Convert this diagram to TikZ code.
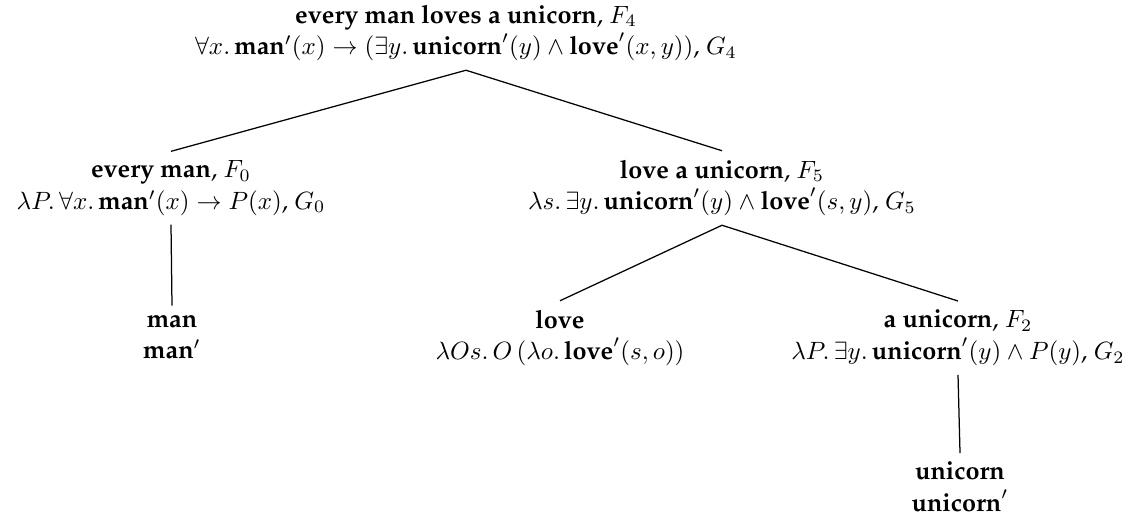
\documentclass[tikz,border=0pt]{standalone}
\usepackage[T1]{fontenc}
\renewcommand{\rmdefault}{ppl}
\begin{document}
\begin{tikzpicture}[x=0.4pt,y=-0.4pt,
  tn/.style={align=center,inner xsep=0pt,inner ysep=3.5pt,font=\fontsize{10.1}{12.6}\selectfont},
  edge/.style={draw=black,line width=0.5pt}]
\useasboundingbox (0,0) rectangle (1143,518);
\node[tn] (root) at (466,33) {\textbf{every man loves a unicorn}, $F_4$\\ $\forall x.\,\textbf{man}'(x) \to (\exists y.\,\textbf{unicorn}'(y) \land \textbf{love}'(x,y))$, $G_4$};
\node[tn] (em) at (171,188) {\textbf{every man}, $F_0$\\ $\lambda P.\,\forall x.\,\textbf{man}'(x) \to P(x)$, $G_0$};
\node[tn] (lau) at (722,188) {\textbf{love a unicorn}, $F_5$\\ $\lambda s.\,\exists y.\,\textbf{unicorn}'(y) \land \textbf{love}'(s,y)$, $G_5$};
\node[tn] (man) at (172,337) {\textbf{man}\\ $\textbf{man}'$};
\node[tn] (love) at (560,338) {\textbf{love}\\ $\lambda Os.\,O\,(\lambda o.\,\textbf{love}'(s,o))$};
\node[tn] (au) at (958,338) {\textbf{a unicorn}, $F_2$\\ $\lambda P.\,\exists y.\,\textbf{unicorn}'(y) \land P(y)$, $G_2$};
\node[tn] (uni) at (960,487) {\textbf{unicorn}\\ $\textbf{unicorn}'$};
\draw[edge] (root.south) -- (em.north);
\draw[edge] (root.south) -- (lau.north);
\draw[edge] (em.south) -- (man.north);
\draw[edge] (lau.south) -- (love.north);
\draw[edge] (lau.south) -- (au.north);
\draw[edge] (au.south) -- (uni.north);
\end{tikzpicture}
\end{document}
